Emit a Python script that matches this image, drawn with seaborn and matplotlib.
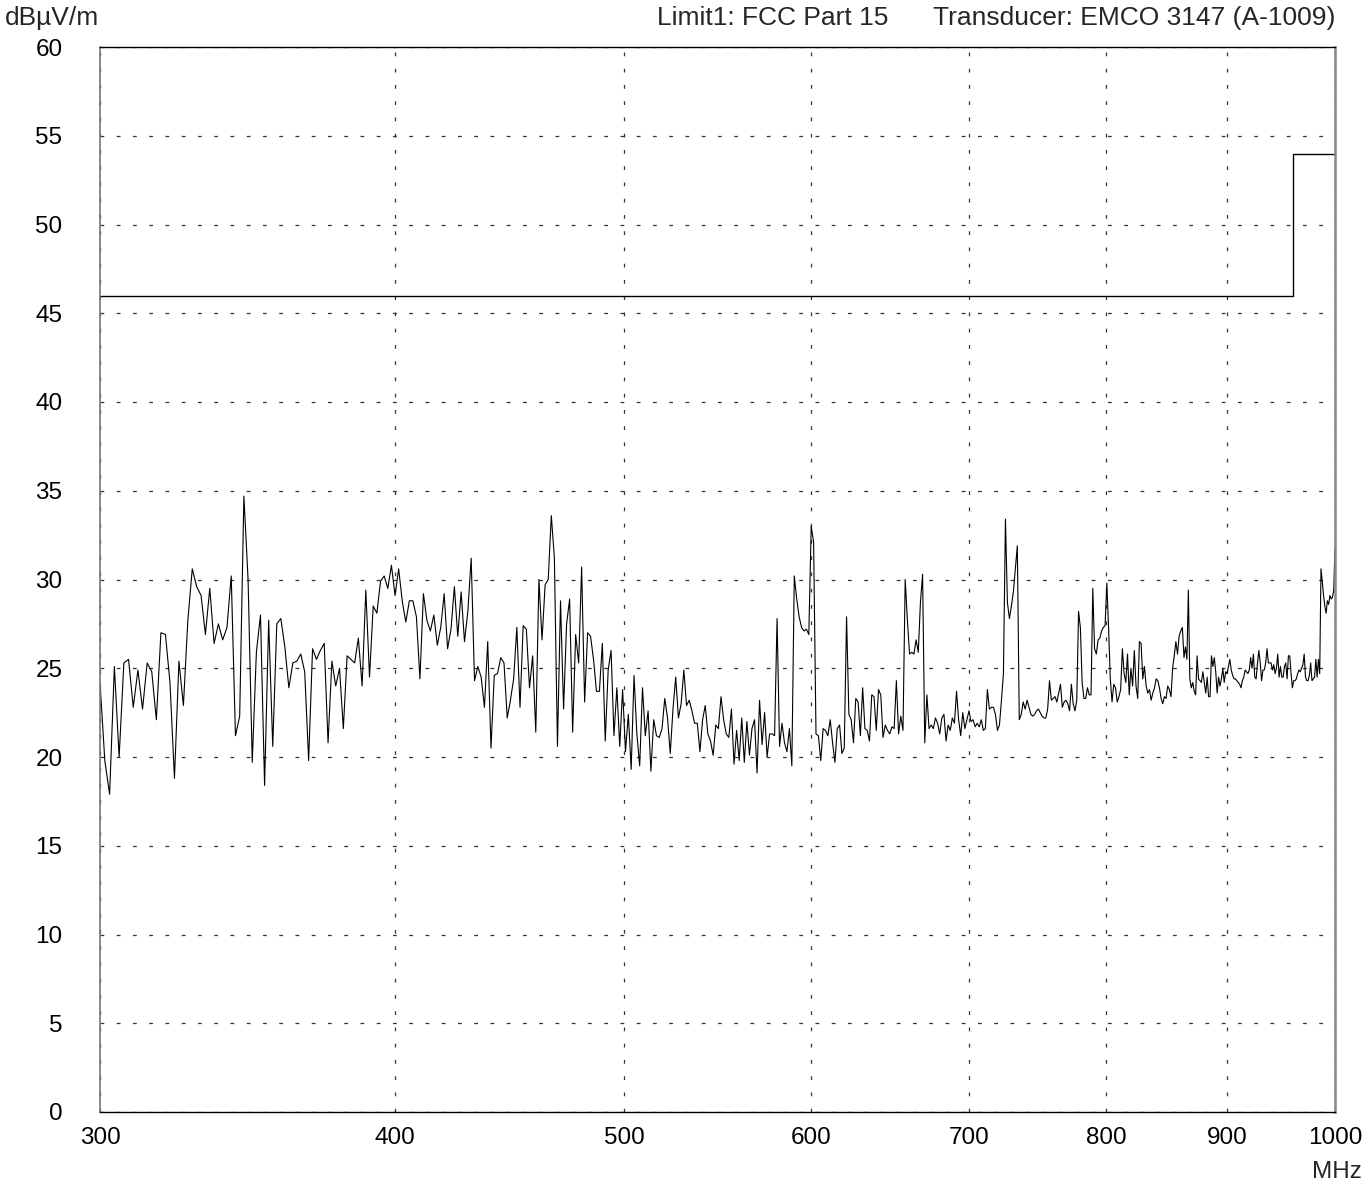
import numpy as np
import pandas as pd
import matplotlib
matplotlib.use("Agg")
import matplotlib.pyplot as plt
import seaborn as sns

# Measured field strength (dBµV/m), one list per frequency band
band_end_mhz = [348.0, 405.6, 471.4, 548.2, 638.0, 742.1, 863.1, 1000.0]

band1 = [24.2, 19.8, 17.9, 25.1, 20.0, 25.3, 25.5, 22.8, 24.9, 22.7, 25.3, 24.8, 22.1, 27.0,
         26.9, 24.2, 18.8, 25.4, 22.9, 27.7, 30.6, 29.6, 29.1, 26.9, 29.5, 26.4, 27.5, 26.6,
         27.3, 30.2, 21.2, 22.3, 34.7, 30.0, 19.7]
band2 = [25.9, 28.0, 18.4, 27.7, 20.6, 27.5, 27.8, 26.2, 23.9, 25.3, 25.4, 25.8, 24.8, 19.8,
         26.1, 25.5, 26.0, 26.4, 20.8, 25.4, 24.0, 25.0, 21.6, 25.7, 25.5, 25.3, 26.7, 24.0,
         29.4, 24.5, 28.5, 28.1, 29.9, 30.2, 29.5, 30.8, 29.1, 30.6, 28.8, 27.6, 28.8]
band3 = [28.8, 27.9, 24.4, 29.2, 27.7, 27.1, 28.0, 26.3, 27.3, 29.2, 26.1, 27.2, 29.6, 26.8,
         29.3, 26.5, 28.2, 31.2, 24.3, 25.1, 24.5, 22.8, 26.5, 20.5, 24.6, 24.7, 25.6, 25.3,
         22.2, 23.2, 24.4, 27.3, 22.8, 27.4, 27.2, 23.9, 25.7, 21.4, 30.0, 26.6, 29.7, 30.0,
         33.6, 31.2, 20.6, 28.8, 22.7]
band4 = [27.5, 28.9, 21.4, 26.9, 25.3, 30.7, 23.1, 27.0, 26.8, 25.5, 23.7, 23.7, 26.4, 20.9,
         24.9, 26.0, 21.2, 23.9, 20.6, 23.8, 20.3, 22.4, 19.3, 24.6, 21.3, 19.5, 23.9, 21.2,
         22.6, 19.2, 22.1, 21.2, 21.1, 21.6, 23.3, 22.2, 20.2, 22.7, 24.5, 22.2, 23.0, 24.9,
         22.9, 23.2, 22.6, 21.9, 21.9, 20.3, 22.1, 22.9, 21.3, 20.9, 20.1, 21.8, 21.6]
band5 = [23.4, 22.1, 21.3, 21.1, 22.7, 19.6, 21.5, 19.8, 22.2, 19.7, 22.0, 20.1, 21.6, 22.1,
         19.1, 23.2, 20.7, 22.5, 20.0, 21.3, 21.3, 21.2, 27.8, 20.6, 21.9, 20.8, 20.3, 21.6,
         19.5, 30.2, 28.9, 27.9, 27.3, 27.1, 27.2, 26.9, 33.0, 32.1, 21.3, 21.2, 19.8, 21.6,
         21.5, 21.2, 22.1, 20.8, 19.7, 21.6, 21.8, 20.2, 20.5, 27.9, 22.4, 22.1, 20.8, 23.3,
         23.1, 21.2, 23.9, 21.6, 21.5, 20.9, 23.5, 23.4]
band6 = [21.5, 23.8, 23.5, 21.1, 21.8, 21.5, 21.3, 21.7, 21.6, 24.3, 21.3, 22.3, 21.5, 30.0,
         27.7, 25.8, 25.9, 25.8, 26.6, 25.9, 28.7, 30.3, 20.8, 23.5, 21.6, 21.8, 21.6, 22.2,
         21.9, 21.3, 22.2, 22.4, 20.9, 21.8, 21.5, 22.2, 21.9, 23.7, 22.1, 21.2, 22.5, 21.6,
         22.1, 22.6, 22.0, 22.1, 21.7, 21.9, 21.7, 22.1, 21.5, 21.6, 23.8, 22.7, 22.8, 22.8,
         22.4, 21.5, 21.8, 23.2, 24.7, 33.4, 28.7, 27.8, 28.5, 29.3, 30.6, 31.9, 22.1, 22.4,
         23.1, 22.7, 23.2, 22.8]
band7 = [22.4, 22.3, 22.4, 22.6, 22.7, 22.5, 22.3, 22.2, 22.2, 22.7, 24.3, 23.2, 23.3, 23.4,
         23.1, 23.6, 24.1, 22.8, 23.1, 23.2, 23.0, 22.6, 24.1, 23.0, 22.6, 23.2, 28.2, 27.3,
         24.2, 23.3, 23.3, 23.9, 23.5, 23.5, 29.5, 26.1, 25.8, 26.6, 26.7, 27.1, 27.3, 27.4,
         29.8, 27.3, 24.4, 23.1, 24.1, 23.9, 23.1, 23.4, 23.8, 26.1, 24.7, 24.2, 25.8, 23.5,
         25.0, 24.0, 26.0, 24.0, 23.3, 26.5, 26.4, 24.4, 25.1, 24.0, 23.6, 23.8, 23.2, 23.6,
         23.9, 24.4, 24.3, 23.9, 23.3, 23.0, 23.4, 23.3, 24.0, 23.8, 23.4, 25.0, 25.7, 26.5,
         25.8, 26.8, 27.1, 27.3, 25.6]
band8 = [26.2, 25.5, 29.4, 24.4, 23.9, 24.2, 23.7, 23.5, 25.7, 24.4, 24.3, 24.2, 24.8, 24.2,
         23.6, 24.5, 23.4, 23.4, 25.7, 25.1, 25.6, 24.8, 23.6, 24.5, 24.0, 24.4, 25.0, 24.2,
         24.8, 24.7, 25.1, 25.5, 24.9, 24.6, 24.4, 24.4, 24.3, 24.2, 24.1, 23.9, 24.3, 24.5,
         24.9, 24.8, 24.7, 24.9, 25.6, 25.0, 25.8, 24.5, 24.4, 25.3, 26.0, 25.3, 24.3, 24.9,
         24.9, 25.3, 26.1, 25.3, 25.3, 25.3, 24.9, 25.2, 24.7, 25.0, 25.8, 24.5, 25.1, 24.5,
         24.5, 25.1, 25.3, 24.4, 25.7, 25.7, 24.7, 23.9, 24.3, 24.3, 24.4, 24.7, 24.9, 24.8,
         25.0, 25.2, 25.8, 24.5, 24.3, 24.3, 24.6, 25.3, 24.3, 24.4, 24.5, 25.5, 24.5, 25.5,
         24.7, 30.6, 29.9, 29.1, 28.5, 28.1, 28.8, 28.6, 29.1, 28.9, 29.0, 29.4, 31.8]
bands = [band1, band2, band3, band4, band5, band6, band7, band8]

# FCC Part 15 limit (dBµV/m)
limit_freq = [300.0, 960.0, 1000.0]
limit_level = [46.0, 54.0, 54.0]

x_ticks = [300, 400, 500, 600, 700, 800, 900, 1000]
y_ticks = list(range(0, 61, 5))

# Sweep frequencies: evenly spaced samples within each band
freqs = []
start = 300.0
for i, (lv, end) in enumerate(zip(bands, band_end_mhz)):
    if i == 0:
        f = np.linspace(start, end, len(lv))
    else:
        f = np.linspace(start, end, len(lv) + 1)[1:]
    freqs.extend(f)
    start = end
levels = np.concatenate(bands)
trace = pd.DataFrame({"MHz": freqs, "level": levels})
limit = pd.DataFrame({"MHz": limit_freq, "level": limit_level})

sns.set_theme(style="white")
plt.rcParams["font.family"] = ["Liberation Sans", "DejaVu Sans"]

W, H = 1366, 1191
fig = plt.figure(figsize=(W / 100, H / 100), dpi=100)
ax = fig.add_axes([100 / W, 1 - 1112 / H, (1335 - 100) / W, (1112 - 47) / H])

sns.lineplot(data=trace, x="MHz", y="level", ax=ax, sort=False, estimator=None,
             color="black", lw=0.8)
sns.lineplot(data=limit, x="MHz", y="level", ax=ax, sort=False, estimator=None,
             color="black", lw=1.0, drawstyle="steps-post")

ax.set_xscale("log")
ax.set_xlim(300, 1000)
ax.set_ylim(0, 60)
ax.set_xticks(x_ticks)
ax.set_xticklabels([str(t) for t in x_ticks])
ax.xaxis.set_minor_locator(matplotlib.ticker.NullLocator())
ax.set_yticks(y_ticks)
ax.set_yticklabels([str(t) for t in y_ticks])
ax.set_xlabel("")
ax.set_ylabel("")

ax.tick_params(axis="y", length=0, pad=27, labelsize=17.5, labelcolor="black")
ax.tick_params(axis="x", length=0, pad=11, labelsize=17.5, labelcolor="black")

ax.grid(True, which="major", color="#333333", lw=0.9, linestyle=(0, (3, 10)))

for side in ("top", "bottom"):
    ax.spines[side].set_color("black")
    ax.spines[side].set_linewidth(1.0)
ax.spines["left"].set_color("#777777")
ax.spines["left"].set_linewidth(1.2)
ax.spines["right"].set_color("#888888")
ax.spines["right"].set_linewidth(1.8)

fig.text(5 / W, 1 - 18 / H, "dBµV/m", ha="left", va="center", fontsize=19)
fig.text(888 / W, 1 - 18 / H, "Limit1: FCC Part 15", ha="right", va="center", fontsize=19)
fig.text(1335 / W, 1 - 18 / H, "Transducer: EMCO 3147 (A-1009)", ha="right", va="center",
         fontsize=19)
fig.text(1362 / W, 1 - 1172 / H, "MHz", ha="right", va="center", fontsize=17.5)

fig.savefig("out.png", dpi=100, facecolor="white")
